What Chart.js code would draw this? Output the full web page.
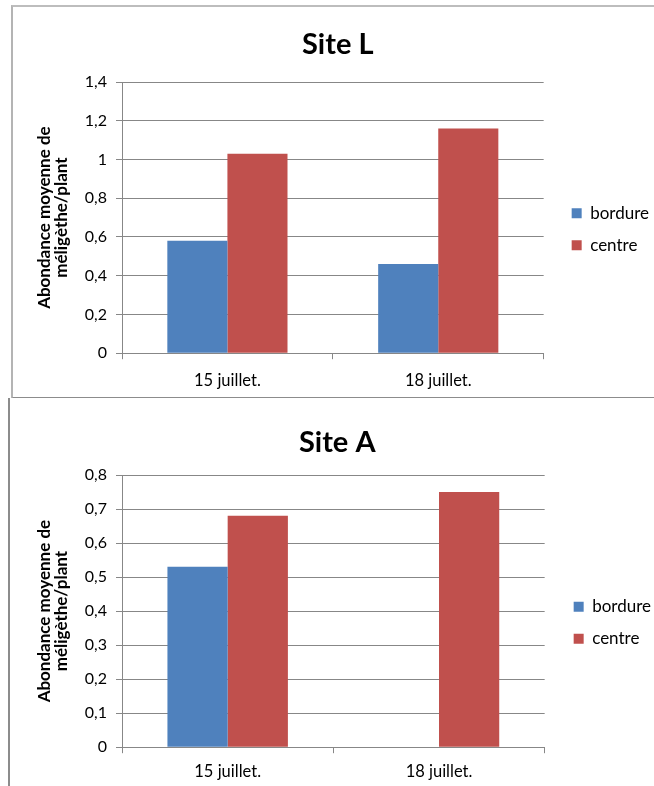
<!DOCTYPE html>
<html>
<head>
<meta charset="utf-8">
<script src="https://cdn.jsdelivr.net/npm/chart.js@4.4.1/dist/chart.umd.min.js"></script>
<style>
  html, body { margin: 0; padding: 0; background: #fff; }
  body { width: 654px; height: 786px; position: relative; overflow: hidden; }
  .frame { position: absolute; background: #fff; }
  #frameL { left: 11px; top: 5px; width: 700px; height: 390px;
            border-left: 2px solid #b4b4b4; border-top: 2px solid #bdbdbd; border-bottom: 2px solid #8c8c8c; }
  #frameA { left: 8px; top: 398px; width: 700px; height: 400px;
            border-left: 2px solid #8c8c8c; }
  canvas { position: absolute; }
  #chartL { left: 13px; top: 7px; }
  #chartA { left: 10px; top: 400px; }
</style>
</head>
<body>
<div class="frame" id="frameL"></div>
<div class="frame" id="frameA"></div>
<canvas id="chartL" width="646" height="396"></canvas>
<canvas id="chartA" width="651" height="391"></canvas>
<script>
// Dates sampled
const dates = ['15 juillet.', '18 juillet.'];
const seriesNames = ['bordure', 'centre'];

// Site L: mean abundance per plant
const siteL_bordure = [0.58, 0.46];
const siteL_centre = [1.03, 1.16];
const siteL_ticks = ['0', '0,2', '0,4', '0,6', '0,8', '1', '1,2', '1,4'];

// Site A: mean abundance per plant
const siteA_bordure = [0.53, 0];
const siteA_centre = [0.68, 0.75];
const siteA_ticks = ['0', '0,1', '0,2', '0,3', '0,4', '0,5', '0,6', '0,7', '0,8'];

const FONT = "Lato, 'Open Sans', 'Liberation Sans', sans-serif";
const BLUE = '#4F81BD';
const RED = '#C0504D';
const GRID = '#878787';

function drawSite(canvasId, title, bordure, centre, tickLabels, max, step, lay) {
  const ctx = document.getElementById(canvasId);
  return new Chart(ctx, {
    type: 'bar',
    data: {
      labels: dates,
      datasets: [
        { label: seriesNames[0], data: bordure, backgroundColor: BLUE, borderWidth: 0 },
        { label: seriesNames[1], data: centre, backgroundColor: RED, borderWidth: 0 }
      ]
    },
    options: {
      responsive: false,
      animation: false,
      events: [],
      datasets: { bar: { barPercentage: 1, categoryPercentage: 0.57 } },
      layout: { padding: lay.padding },
      plugins: {
        tooltip: { enabled: false },
        title: {
          display: true,
          text: title,
          color: '#000',
          font: { family: FONT, size: 29, weight: 'bold' },
          padding: { top: lay.titleTop, bottom: lay.titleBottom }
        },
        legend: {
          position: 'right',
          align: 'center',
          // blank legend title: pushes the two entries down a little
          title: { display: true, text: ' ', font: { size: 12 }, padding: lay.legendShift },
          labels: {
            boxWidth: 10,
            boxHeight: 10,
            padding: 15,
            color: '#000',
            font: { family: FONT, size: 17 }
          }
        }
      },
      scales: {
        x: {
          grid: { display: true, offset: true, drawOnChartArea: false, color: GRID, tickLength: 6 },
          border: { color: GRID },
          ticks: { color: '#000', padding: lay.xTickPad, font: { family: FONT, size: 16.5 } }
        },
        y: {
          min: 0,
          max: max,
          afterFit: (s) => { s.width = lay.yWidth; },
          grid: { color: GRID, tickLength: 6 },
          border: { color: GRID },
          ticks: {
            stepSize: step,
            color: '#000',
            padding: 9,
            font: { family: FONT, size: 16 },
            callback: (v, i) => tickLabels[i]
          },
          title: {
            display: true,
            text: ['Abondance moyenne de', 'méligèthe/plant'],
            color: '#000',
            font: { family: FONT, size: 17, weight: 'bold', lineHeight: 1 },
            padding: { top: lay.yTitlePad, bottom: 0 }
          }
        },
        // empty right-hand gutter between the plot and the legend
        gutter: {
          axis: 'y',
          type: 'linear',
          position: 'right',
          display: true,
          grid: { display: false, drawTicks: false },
          border: { display: false },
          ticks: { display: false },
          afterFit: (s) => { s.width = lay.gutter; }
        }
      }
    }
  });
}

drawSite('chartL', 'Site L', siteL_bordure, siteL_centre, siteL_ticks, 1.4, 0.2, {
  padding: { left: 3.5, right: 0, top: 0, bottom: 0 },
  titleTop: 20.6, titleBottom: 19.6, xTickPad: 12, yWidth: 105.5, yTitlePad: 20,
  gutter: 13, legendShift: 17
});
drawSite('chartA', 'Site A', siteA_bordure, siteA_centre, siteA_ticks, 0.8, 0.1, {
  padding: { left: 3.5, right: 0, top: 0, bottom: 0 },
  titleTop: 25.6, titleBottom: 14.6, xTickPad: 9, yWidth: 108.5, yTitlePad: 23,
  gutter: 14, legendShift: 20
});
</script>
</body>
</html>
